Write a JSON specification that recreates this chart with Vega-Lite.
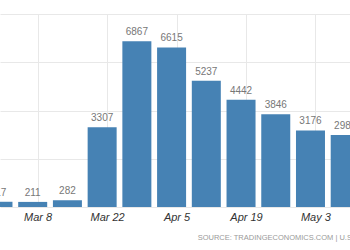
{
  "$schema": "https://vega.github.io/schema/vega-lite/v6.json",
  "width": 350,
  "height": 193,
  "autosize": "none",
  "padding": {"left": 0, "top": 14, "right": 0, "bottom": 43},
  "background": "white",
  "title": {
    "text": "SOURCE: TRADINGECONOMICS.COM  |  U.S. DEPARTMENT OF LABOR",
    "orient": "bottom",
    "anchor": "start",
    "dx": 208,
    "offset": 12,
    "fontSize": 7.5,
    "font": "Liberation Sans",
    "fontWeight": "normal",
    "color": "#9a9a9a"
  },
  "data": {
    "values": [
      {"date": "2020-02-29", "claims": 217},
      {"date": "2020-03-07", "claims": 211},
      {"date": "2020-03-14", "claims": 282},
      {"date": "2020-03-21", "claims": 3307},
      {"date": "2020-03-28", "claims": 6867},
      {"date": "2020-04-04", "claims": 6615},
      {"date": "2020-04-11", "claims": 5237},
      {"date": "2020-04-18", "claims": 4442},
      {"date": "2020-04-25", "claims": 3846},
      {"date": "2020-05-02", "claims": 3176},
      {"date": "2020-05-09", "claims": 2981}
    ]
  },
  "encoding": {
    "x": {
      "field": "date",
      "type": "temporal",
      "scale": {"type": "utc", "domain": ["2020-03-01T10:00:00Z", "2020-05-08T23:00:00Z"]},
      "axis": {
        "title": null,
        "values": ["2020-03-08T00:00:00Z", "2020-03-22T00:00:00Z", "2020-04-05T00:00:00Z", "2020-04-19T00:00:00Z", "2020-05-03T00:00:00Z"],
        "labelExpr": "utcFormat(datum.value, '%b') + ' ' + utcdate(datum.value)",
        "domain": false,
        "ticks": false,
        "grid": true,
        "gridColor": "#e8e8e8",
        "labelFont": "Liberation Sans",
        "labelFontStyle": "italic",
        "labelFontSize": 11,
        "labelColor": "#333333",
        "labelPadding": 4
      }
    },
    "y": {
      "field": "claims",
      "type": "quantitative",
      "scale": {"domain": [0, 8000], "nice": false},
      "axis": {
        "title": null,
        "values": [0, 2000, 4000, 6000, 8000],
        "labels": false,
        "ticks": false,
        "domain": false,
        "grid": true,
        "gridColor": "#e8e8e8"
      }
    }
  },
  "layer": [
    {
      "mark": {"type": "bar", "size": 29, "color": "#4682b4", "clip": true}
    },
    {
      "mark": {"type": "text", "dy": -9, "fontSize": 10, "font": "Liberation Sans", "color": "#777777", "clip": false},
      "encoding": {"text": {"field": "claims", "type": "quantitative", "format": "d"}}
    }
  ],
  "config": {"view": {"stroke": null}}
}
